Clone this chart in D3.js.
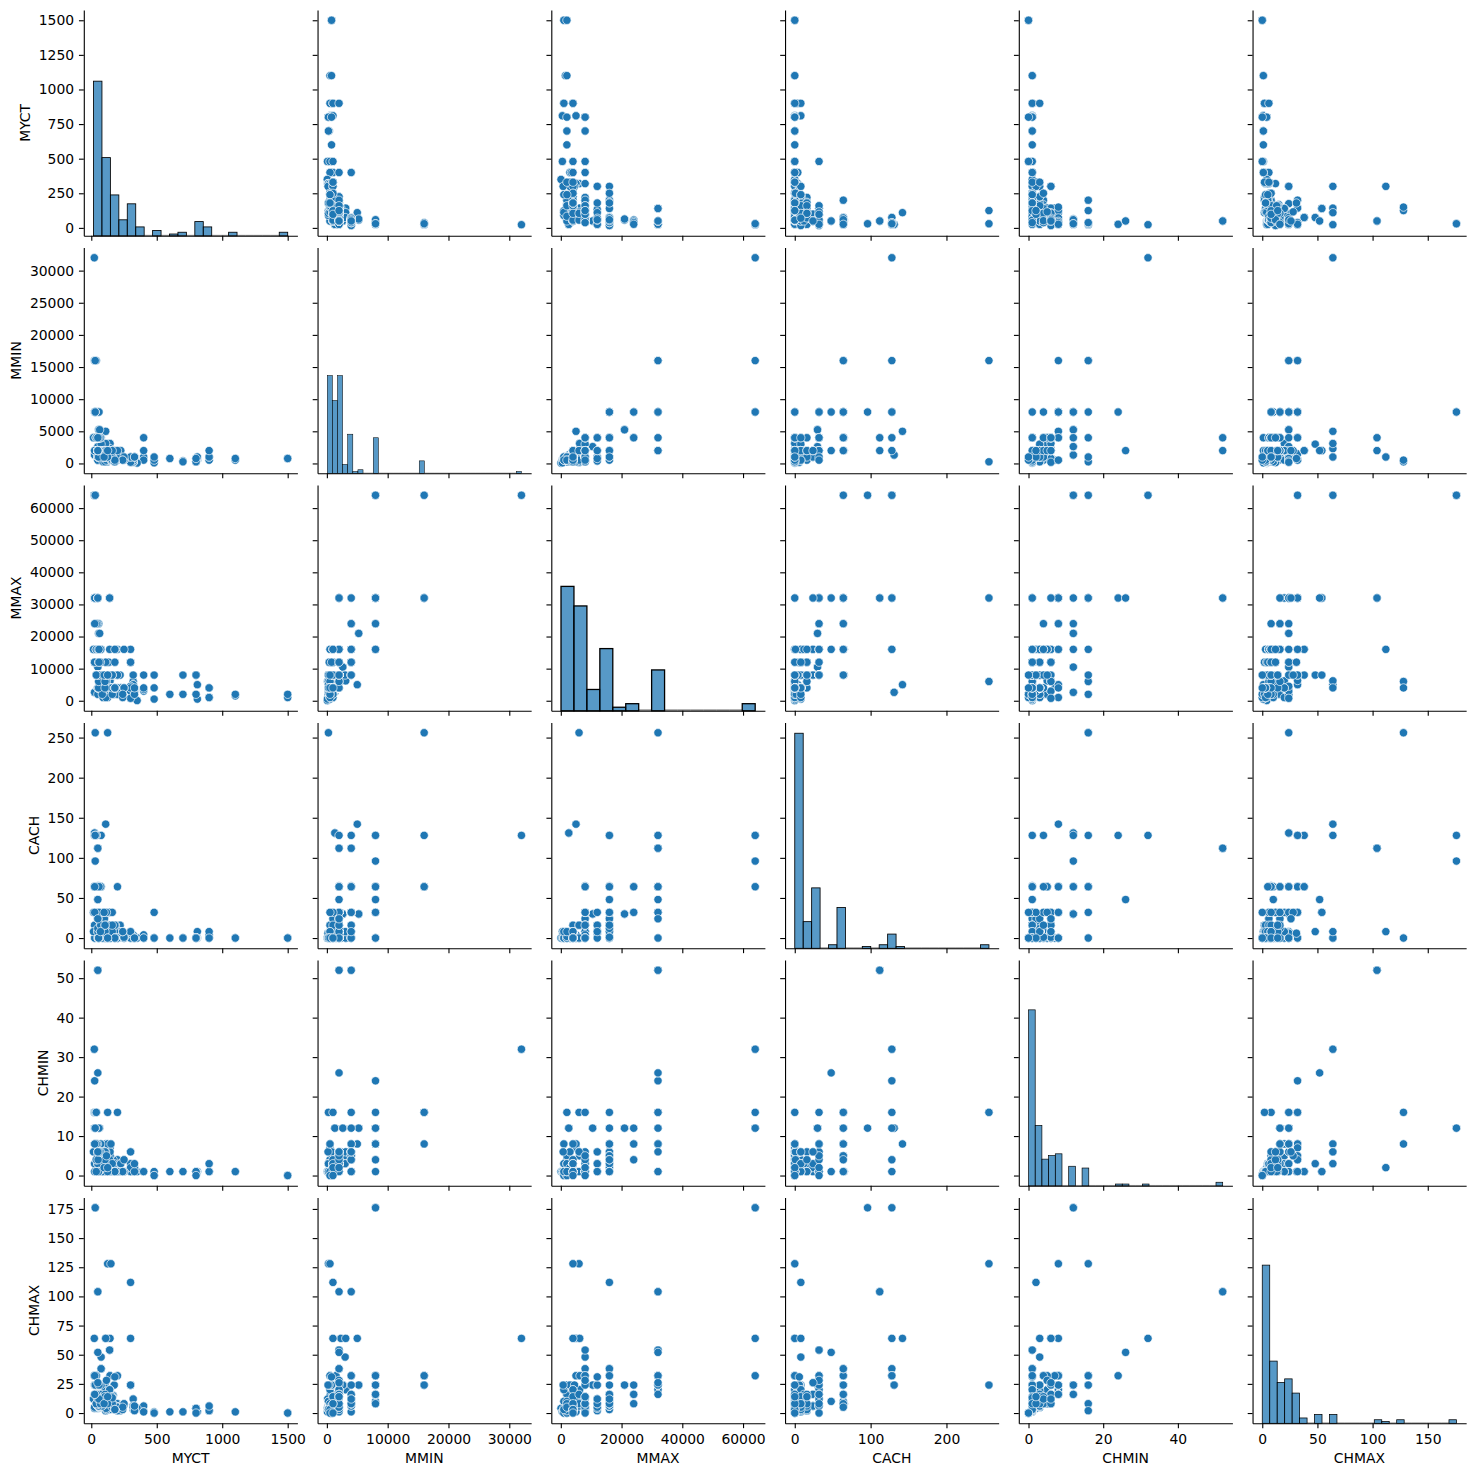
<!DOCTYPE html>
<html>
<head>
<meta charset="utf-8">
<script src="https://cdn.jsdelivr.net/npm/d3@7"></script>
<style>
  body { margin: 0; background: #fff; }
  svg text { font-family: "DejaVu Sans", sans-serif; fill: #000; }
</style>
</head>
<body>
<script>
// variables, in the order of rows / columns of the grid
var columns = ["MYCT", "MMIN", "MMAX", "CACH", "CHMIN", "CHMAX"];

// one array per variable (209 machines)
var MYCT = [125,29,29,29,29,26,23,23,23,23,400,400,60,50,350,200,167,143,143,110,143,143,143,110,320,320,320,320,320,320,
  25,25,50,50,56,64,50,50,50,50,50,50,50,50,133,133,810,810,320,200,700,700,140,200,110,110,220,800,800,800,
  800,800,125,75,75,75,90,105,105,105,75,75,175,300,300,300,300,300,300,180,330,300,300,330,330,140,140,140,140,140,
  140,140,140,57,57,26,26,26,26,480,203,115,1100,1100,600,400,400,900,900,900,900,900,225,225,180,185,180,225,25,25,
  17,17,1500,1500,800,50,50,50,50,50,50,100,100,100,50,50,50,150,115,115,92,92,92,75,60,60,60,50,72,72,
  40,40,35,38,48,38,30,112,84,56,56,56,56,56,56,38,38,38,38,38,200,200,200,250,250,250,160,160,160,160,
  160,240,240,105,105,105,52,70,59,59,26,26,26,116,50,50,50,50,30,30,180,180,180,180,124,98,125,480,480];
var MMIN = [256,8000,8000,8000,8000,8000,16000,16000,16000,32000,1000,512,2000,4000,64,512,524,512,1000,5000,1500,3100,2300,3100,128,512,256,256,512,256,
  1310,1310,2620,2620,5240,5240,500,1000,2000,1000,1000,2000,2000,2000,1000,1000,512,1000,512,512,384,256,1000,1000,1000,1000,1000,256,256,256,
  256,256,512,2000,2000,2000,256,256,1000,2000,2000,3000,256,768,768,768,768,384,192,768,1000,1000,1000,1000,1000,2000,2000,2000,2000,2000,
  2000,2000,2000,4000,4000,16000,16000,8000,8000,96,1000,512,512,768,768,2000,4000,1000,512,1000,1000,2000,2000,2000,2000,2000,2000,1000,2000,2000,
  4000,4000,768,768,768,2000,2000,2000,2000,2000,8000,1000,1000,1000,2000,2000,2000,512,2000,2000,2000,2000,2000,4000,4000,2000,4000,4000,4000,2000,
  8000,8000,8000,16000,4000,8000,16000,1000,1000,1000,2000,2000,4000,4000,4000,4000,4000,8000,8000,4000,1000,1000,2000,512,512,1000,512,512,1000,1000,
  2000,512,512,2000,2000,2000,4000,4000,4000,8000,8000,8000,8000,2000,2000,2000,2000,4000,8000,8000,262,512,262,512,1000,1000,2000,512,1000];
var MMAX = [6000,32000,32000,32000,16000,32000,32000,32000,64000,64000,3000,3500,8000,16000,64,16000,2000,5000,2000,5000,6300,6200,6200,6200,6000,2000,6000,3000,5000,5000,
  2620,2620,10480,10480,20970,20970,2000,4000,8000,4000,8000,16000,16000,16000,12000,8000,512,5000,8000,8000,8000,2000,16000,8000,4000,12000,8000,8000,8000,8000,
  8000,8000,1000,8000,16000,16000,1000,2000,4000,4000,8000,8000,2000,3000,3000,12000,4500,12000,768,12000,3000,4000,16000,2000,4000,4000,4000,4000,32000,8000,
  32000,32000,4000,16000,24000,32000,32000,32000,16000,512,2000,6000,1500,2000,2000,4000,8000,1000,1000,4000,4000,4000,4000,4000,8000,16000,16000,4000,12000,12000,
  16000,16000,1000,2000,2000,4000,8000,8000,16000,16000,16000,8000,8000,8000,16000,16000,16000,4000,8000,4000,8000,8000,8000,16000,16000,16000,16000,16000,16000,8000,
  16000,32000,32000,32000,24000,32000,32000,1000,2000,4000,6000,8000,8000,12000,16000,8000,8000,16000,24000,16000,2000,4000,8000,4000,4000,16000,4000,2000,4000,8000,
  8000,1000,2000,4000,6000,8000,16000,12000,12000,16000,24000,32000,32000,8000,32000,32000,32000,32000,64000,64000,4000,4000,4000,4000,8000,8000,8000,8000,4000];
var CACH = [256,32,32,32,32,64,64,64,64,128,0,4,65,65,0,0,8,0,0,142,0,0,0,0,0,4,0,4,4,4,
  131,131,30,30,30,30,8,8,8,8,8,8,8,8,9,9,8,0,4,8,0,0,16,0,16,16,16,0,0,0,
  0,0,0,64,64,128,0,0,0,8,8,8,0,0,6,6,0,6,6,6,0,8,8,0,0,0,0,8,32,32,
  32,32,8,1,64,64,64,0,0,0,0,16,0,0,0,0,0,0,0,4,8,0,8,8,8,16,16,2,8,16,
  8,32,0,0,0,0,8,8,24,24,48,0,24,24,12,24,24,0,16,2,32,32,4,16,32,64,64,64,64,16,
  32,64,64,128,32,64,256,0,0,0,0,0,0,0,0,32,32,64,64,128,0,0,64,0,0,1,2,2,8,16,
  32,8,8,8,16,16,32,8,32,64,32,64,128,32,24,48,112,112,96,128,0,0,0,0,0,32,0,32,0];
var CHMIN = [16,8,8,8,8,8,16,16,16,32,1,1,1,1,1,4,4,7,5,8,5,5,6,6,1,1,1,1,1,1,
  12,12,12,12,12,12,1,1,1,3,3,3,3,3,3,3,1,1,1,1,1,1,1,1,1,1,1,1,1,1,
  1,1,8,1,1,1,3,3,3,3,3,3,3,6,6,6,1,1,6,1,2,3,2,1,3,3,4,1,1,1,
  1,1,1,6,12,16,8,8,8,1,1,1,1,1,1,1,1,1,1,1,1,3,3,3,1,1,1,3,1,3,
  6,6,0,0,0,3,3,1,1,1,1,2,2,3,3,6,6,8,1,1,1,1,1,1,1,5,5,5,8,6,
  8,8,8,16,8,8,16,1,1,1,1,1,1,1,1,1,16,16,4,4,16,1,1,1,1,4,1,1,3,1,
  1,1,1,3,6,4,4,6,6,12,8,12,24,5,6,26,52,52,12,12,1,1,1,1,1,2,2,0,0];
var CHMAX = [128,32,32,32,16,32,32,32,32,64,2,6,8,8,4,32,15,32,16,64,32,20,64,64,12,3,6,3,5,6,
  24,24,24,24,24,24,4,5,5,5,5,5,6,6,12,12,1,1,5,8,1,1,3,2,2,2,2,4,4,4,
  4,4,20,38,38,38,10,10,24,19,24,48,24,24,24,24,24,24,24,31,4,64,112,2,6,6,8,20,20,54,
  54,54,20,12,16,24,24,24,16,1,5,6,1,1,1,1,1,2,2,2,2,6,6,6,6,6,6,6,4,5,
  12,12,0,0,0,6,6,6,6,6,10,6,6,6,16,16,16,128,3,5,6,6,6,6,6,8,8,10,16,8,
  16,24,24,32,24,24,24,4,6,6,8,8,8,8,8,32,32,8,8,32,2,4,5,7,7,8,5,8,14,14,
  13,3,5,8,16,14,12,8,12,24,16,16,32,28,26,52,104,104,176,176,3,3,3,3,8,8,14,0,0];

// number of histogram bins per variable
var binCounts = [23, 38, 15, 23, 29, 26];

// tick values per variable
var xTicks = [
  [0, 500, 1000, 1500],
  [0, 10000, 20000, 30000],
  [0, 20000, 40000, 60000],
  [0, 100, 200],
  [0, 20, 40],
  [0, 50, 100, 150]
];
var yTicks = [
  [0, 250, 500, 750, 1000, 1250, 1500],
  [0, 5000, 10000, 15000, 20000, 25000, 30000],
  [0, 10000, 20000, 30000, 40000, 50000, 60000],
  [0, 50, 100, 150, 200, 250],
  [0, 10, 20, 30, 40, 50],
  [0, 25, 50, 75, 100, 125, 150, 175]
];

var values = [MYCT, MMIN, MMAX, CACH, CHMIN, CHMAX];

// grid geometry
var width = 1476, height = 1476,
    gridLeft = 83.8, gridTop = 10,
    cellW = 213.6, cellH = 225.8,
    stepX = 233.75, stepY = 237.5;
var tickLen = 4.86, fontSize = 13.9, lineW = 1.11,
    blue = "#1f77b4";

var svg = d3.select("body").append("svg")
    .attr("width", width)
    .attr("height", height);

// data extents with 5% margins on each side
var domains = values.map(function(v) {
  var lo = d3.min(v), hi = d3.max(v), pad = (hi - lo) * 0.05;
  return [lo - pad, hi + pad];
});

// equal-width bins between min and max
var hists = values.map(function(v, i) {
  var lo = d3.min(v), hi = d3.max(v), n = binCounts[i];
  var th = d3.range(1, n).map(function(k) { return lo + k * (hi - lo) / n; });
  return d3.bin().domain([lo, hi]).thresholds(th)(v);
});
// the diagonal panels share one count axis
var maxCount = d3.max(hists, function(h) { return d3.max(h, function(b) { return b.length; }); });
var yHist = d3.scaleLinear().domain([0, maxCount * 1.05]).range([cellH, 0]);

function styleAxis(g) {
  g.attr("font-size", fontSize).attr("font-family", "DejaVu Sans");
  g.select(".domain").attr("stroke-width", lineW).attr("stroke", "#000");
  g.selectAll(".tick line").attr("stroke-width", lineW).attr("stroke", "#000");
  g.selectAll(".tick text").attr("fill", "#000");
}

columns.forEach(function(rowName, i) {
  columns.forEach(function(colName, j) {
    var cell = svg.append("g")
        .attr("transform", "translate(" + (gridLeft + j * stepX) + "," + (gridTop + i * stepY) + ")");

    var x = d3.scaleLinear().domain(domains[j]).range([0, cellW]),
        y = d3.scaleLinear().domain(domains[i]).range([cellH, 0]);

    if (i === j) {
      // histogram on the diagonal
      var bins = hists[i];
      var bw = x(bins[0].x1) - x(bins[0].x0);
      var lw = Math.min(0.1 * bw, 100 / 72);
      cell.selectAll(".bar")
          .data(bins.filter(function(b) { return b.length > 0; }))
        .enter().append("rect")
          .attr("class", "bar")
          .attr("x", function(b) { return x(b.x0); })
          .attr("y", function(b) { return yHist(b.length); })
          .attr("width", function(b) { return x(b.x1) - x(b.x0); })
          .attr("height", function(b) { return cellH - yHist(b.length); })
          .attr("fill", blue)
          .attr("fill-opacity", 0.75)
          .attr("stroke", "#000")
          .attr("stroke-width", lw);
      // empty bins still leave their outline on the baseline
      cell.selectAll(".empty")
          .data(bins.filter(function(b) { return b.length === 0; }))
        .enter().append("line")
          .attr("class", "empty")
          .attr("x1", function(b) { return x(b.x0); })
          .attr("x2", function(b) { return x(b.x1); })
          .attr("y1", cellH - lw / 2)
          .attr("y2", cellH - lw / 2)
          .attr("stroke", "#000")
          .attr("stroke-opacity", 0.6)
          .attr("stroke-width", lw);
    } else {
      // scatter off the diagonal
      var xs = values[j], ys = values[i];
      cell.selectAll(".dot")
          .data(d3.range(xs.length))
        .enter().append("circle")
          .attr("class", "dot")
          .attr("cx", function(k) { return x(xs[k]); })
          .attr("cy", function(k) { return y(ys[k]); })
          .attr("r", 3 * 100 / 72)
          .attr("fill", blue)
          .attr("stroke", "#fff")
          .attr("stroke-width", 0.667);
    }

    // y axis (labels only on the first column)
    var yAxis = cell.append("g")
        .call(d3.axisLeft(y)
          .tickValues(yTicks[i])
          .tickSize(tickLen)
          .tickPadding(tickLen)
          .tickSizeOuter(0)
          .tickFormat(j === 0 ? d3.format("d") : function() { return ""; }))
        .call(styleAxis);

    // x axis (labels only on the bottom row)
    cell.append("g")
        .attr("transform", "translate(0," + cellH + ")")
        .call(d3.axisBottom(x)
          .tickValues(xTicks[j])
          .tickSize(tickLen)
          .tickPadding(tickLen)
          .tickSizeOuter(0)
          .tickFormat(i === columns.length - 1 ? d3.format("d") : function() { return ""; }))
        .call(styleAxis)
        .selectAll(".tick text").attr("dy", "0.76em");

    if (j === 0) {
      var bb = yAxis.node().getBBox();
      cell.append("text")
          .attr("transform", "translate(" + (bb.x - 5.56 - 3.3) + "," + (cellH / 2) + ") rotate(-90)")
          .attr("text-anchor", "middle")
          .attr("font-size", fontSize)
          .text(rowName);
    }
    if (i === columns.length - 1) {
      cell.append("text")
          .attr("x", cellW / 2)
          .attr("y", cellH + 39.8)
          .attr("text-anchor", "middle")
          .attr("font-size", fontSize)
          .text(colName);
    }
  });
});
</script>
</body>
</html>
